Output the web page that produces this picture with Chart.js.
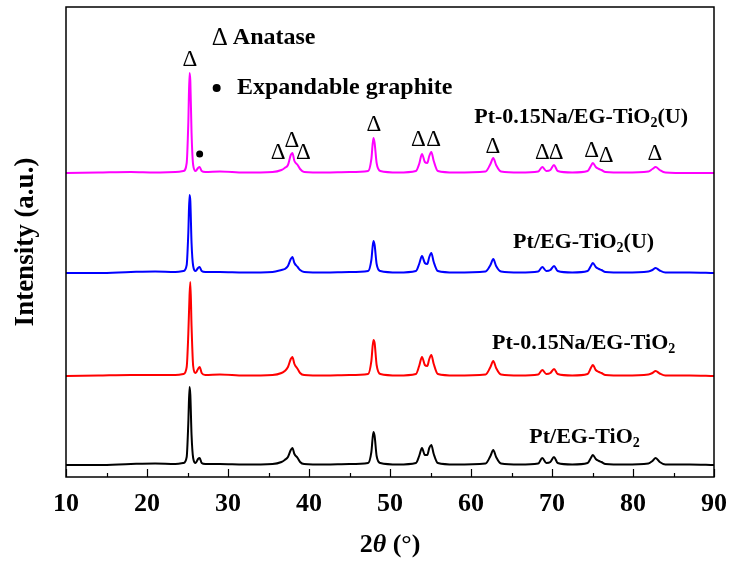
<!DOCTYPE html>
<html lang="en">
<head>
<meta charset="utf-8">
<title>XRD patterns</title>
<script src="https://cdn.jsdelivr.net/npm/chart.js"></script>
<style>
  html, body { margin: 0; padding: 0; background: #fff; }
</style>
</head>
<body>
<canvas id="xrdChart" width="732" height="563"></canvas>
<script>
// 2theta grid shared by all four patterns
const twoTheta = [
  10, 14, 18, 21, 23.5, 24.5, 24.9, 25.1, 25.25, 25.35, 25.5, 25.7, 26.0, 26.3, 26.5, 26.75, 27.2, 29,
  32, 35.5, 36.6, 37.0, 37.4, 37.75, 37.95, 38.2, 38.6, 38.9, 39.4,
  42, 45, 47.3, 47.7, 47.95, 48.1, 48.35, 48.8,
  51, 53.2, 53.6, 53.95, 54.3, 54.6, 54.85, 55.1, 55.4, 55.9,
  58, 61.8, 62.4, 62.75, 63.1, 63.7,
  66, 68.3, 68.8, 69.3, 69.8, 70.25, 70.7,
  72.5, 74.4, 74.8, 75.05, 75.4, 75.8, 76.1, 76.6,
  79, 81.9, 82.4, 82.8, 83.3, 84, 87, 90
];

// net intensities (a.u.) of each sample
const ptNaU = [
  0, 0.5, 1, 0.5, 1, 2, 10, 50, 100, 92, 40, 8, 2, 5, 6, 2, 1, 1.5,
  0.5, 1, 3, 5, 8, 18, 20, 12, 8, 4, 1,
  0.5, 1, 2, 14, 35, 30, 10, 2,
  0.5, 2, 9, 19, 11, 10, 17, 21, 12, 2,
  0.5, 1.5, 9, 15, 8, 1.5,
  0.5, 1.5, 6, 2, 3, 8, 2,
  0.5, 2, 7, 10, 6, 4, 3, 1,
  0.5, 1.5, 4, 6, 3, 0.5, 0, 0
];
const ptU = [
  0, 0, 1, 1.5, 1, 2, 8, 40, 78, 72, 30, 7, 2, 5, 6, 2, 1, 1,
  0.5, 1, 3, 4, 7, 14, 16, 10, 6, 3, 1,
  0.5, 1, 2, 13, 32, 28, 9, 2,
  0.5, 2, 9, 17, 10, 9, 16, 20, 11, 2,
  0.5, 1.5, 8, 14, 7, 1.5,
  0.5, 1.5, 6, 2, 3, 7, 2,
  0.5, 2, 7, 10, 6, 4, 3, 1,
  0.5, 1.5, 3, 5, 2.5, 0.5, 0.5, 0
];
const ptNa = [
  0, 0.5, 1, 1, 1, 2, 9, 42, 80, 94, 50, 10, 3, 7, 9, 3, 1, 1.5,
  0.5, 1, 3, 5, 9, 17, 19, 12, 7, 3, 1,
  0.5, 1, 2, 15, 36, 33, 11, 2,
  0.5, 2, 10, 19, 11, 10, 17, 21, 12, 2,
  0.5, 1.5, 9, 15, 8, 1.5,
  0.5, 1.5, 6, 2, 3, 7, 2,
  0.5, 2, 8, 11, 6, 4, 3, 1,
  0.5, 1.5, 3, 5, 2.5, 0.5, 0.5, 0
];
const pt = [
  0, 0, 1, 1.5, 1, 2, 8, 42, 78, 70, 30, 7, 2, 6, 7, 2, 1, 1,
  0.5, 1, 3, 5, 8, 15, 17, 11, 7, 3, 1,
  0.5, 1, 2, 13, 33, 29, 9, 2,
  0.5, 2, 9, 17, 10, 10, 17, 20, 11, 2,
  0.5, 1.5, 9, 15, 8, 1.5,
  0.5, 1.5, 7, 2, 3, 8, 2,
  0.5, 2, 7, 10, 6, 4, 3, 1,
  0.5, 1.5, 4, 7, 3, 0.5, 0.5, 0
];

const sampleNames = ['Pt-0.15Na/EG-TiO2(U)', 'Pt/EG-TiO2(U)', 'Pt-0.15Na/EG-TiO2', 'Pt/EG-TiO2'];
const stackOffsets = [304, 204, 101, 12];

// phase markers above the top pattern
const anataseX = [25.3, 36.2, 37.9, 39.3, 48.0, 53.5, 55.4, 62.7, 68.8, 70.5, 74.9, 76.7, 82.7];
const anataseY = [417, 324, 336, 324, 352, 337, 337, 330, 324, 324, 326, 321, 323];
const graphiteX = [26.5];
const graphiteY = [323];

const xTicks = [10, 20, 30, 40, 50, 60, 70, 80, 90];

const serif = '"Liberation Serif", "Times New Roman", serif';
const colors = ['#ff00ff', '#0000ff', '#ff0000', '#000000'];
const series = [ptNaU, ptU, ptNa, pt];

const datasets = series.map((vals, i) => ({
  label: sampleNames[i],
  data: twoTheta.map((t, k) => ({ x: t, y: vals[k] + stackOffsets[i] })),
  borderColor: colors[i],
  borderWidth: 2,
  pointRadius: 0,
  fill: false,
  cubicInterpolationMode: 'monotone'
}));

function drawFormula(ctx, x, y, main, sub, tail) {
  ctx.textAlign = 'left';
  ctx.textBaseline = 'middle';
  ctx.font = 'bold 22px ' + serif;
  ctx.fillText(main, x, y);
  let w = ctx.measureText(main).width;
  ctx.font = 'bold 14px ' + serif;
  ctx.fillText(sub, x + w, y + 6);
  w += ctx.measureText(sub).width;
  if (tail) {
    ctx.font = 'bold 22px ' + serif;
    ctx.fillText(tail, x + w, y);
  }
}

const decorations = {
  id: 'decorations',
  afterDraw(chart) {
    const { ctx, chartArea: a, scales: { x, y } } = chart;
    ctx.save();
    ctx.fillStyle = '#000';
    ctx.strokeStyle = '#000';

    // frame
    ctx.lineWidth = 1.5;
    ctx.strokeRect(a.left, a.top, a.right - a.left, a.bottom - a.top);

    // inward ticks on the 2theta axis
    ctx.lineWidth = 1.2;
    for (let v = 10; v <= 90; v += 5) {
      const px = Math.round(x.getPixelForValue(v)) + 0.5;
      const len = v % 10 === 0 ? 8 : 4;
      ctx.beginPath();
      ctx.moveTo(px, a.bottom);
      ctx.lineTo(px, a.bottom - len);
      ctx.stroke();
    }

    // anatase markers
    ctx.font = '23px ' + serif;
    ctx.textAlign = 'center';
    ctx.textBaseline = 'middle';
    anataseX.forEach((v, i) => {
      ctx.fillText('\u0394', x.getPixelForValue(v), y.getPixelForValue(anataseY[i]));
    });
    graphiteX.forEach((v, i) => {
      ctx.beginPath();
      ctx.arc(x.getPixelForValue(v), y.getPixelForValue(graphiteY[i]), 3.5, 0, Math.PI * 2);
      ctx.fill();
    });

    // key
    ctx.textAlign = 'left';
    ctx.font = '25px ' + serif;
    ctx.fillText('\u0394', x.getPixelForValue(28.0), y.getPixelForValue(439));
    ctx.font = 'bold 24px ' + serif;
    ctx.fillText('Anatase', x.getPixelForValue(30.6), y.getPixelForValue(439));
    ctx.beginPath();
    ctx.arc(x.getPixelForValue(28.6), y.getPixelForValue(389), 4, 0, Math.PI * 2);
    ctx.fill();
    ctx.fillText('Expandable graphite', x.getPixelForValue(31.1), y.getPixelForValue(389));

    // sample names
    drawFormula(ctx, x.getPixelForValue(60.4), y.getPixelForValue(360), 'Pt-0.15Na/EG-TiO', '2', '(U)');
    drawFormula(ctx, x.getPixelForValue(65.2), y.getPixelForValue(235), 'Pt/EG-TiO', '2', '(U)');
    drawFormula(ctx, x.getPixelForValue(62.6), y.getPixelForValue(134), 'Pt-0.15Na/EG-TiO', '2', '');
    drawFormula(ctx, x.getPixelForValue(67.2), y.getPixelForValue(40), 'Pt/EG-TiO', '2', '');

    // x axis title: 2θ (°)
    const parts = [['2', 'bold 26px '], ['\u03b8', 'bold italic 26px '], [' (\u00b0)', 'bold 26px ']];
    let total = 0;
    parts.forEach(p => { ctx.font = p[1] + serif; total += ctx.measureText(p[0]).width; });
    let tx = (a.left + a.right) / 2 - total / 2;
    ctx.textBaseline = 'middle';
    parts.forEach(p => {
      ctx.font = p[1] + serif;
      ctx.fillText(p[0], tx, 545);
      tx += ctx.measureText(p[0]).width;
    });
    ctx.restore();
  }
};

new Chart(document.getElementById('xrdChart'), {
  type: 'line',
  data: { datasets },
  options: {
    responsive: false,
    animation: false,
    layout: { padding: { top: 7, right: 18, left: 0, bottom: 0 } },
    plugins: { legend: { display: false }, tooltip: { enabled: false } },
    scales: {
      x: {
        type: 'linear',
        min: 10,
        max: 90,
        afterBuildTicks: s => { s.ticks = xTicks.map(v => ({ value: v })); },
        afterFit: s => { s.height = 86; },
        grid: { display: false },
        border: { display: false },
        ticks: {
          padding: 4,
          color: '#000',
          font: { family: serif, size: 26, weight: 'bold' }
        }
      },
      y: {
        min: 0,
        max: 470,
        afterFit: s => { s.width = 66; },
        grid: { display: false },
        border: { display: false },
        ticks: { display: false },
        title: {
          display: true,
          text: 'Intensity (a.u.)',
          color: '#000',
          padding: { top: 10, bottom: 0 },
          font: { family: serif, size: 27, weight: 'bold' }
        }
      }
    }
  },
  plugins: [decorations]
});
</script>
</body>
</html>
